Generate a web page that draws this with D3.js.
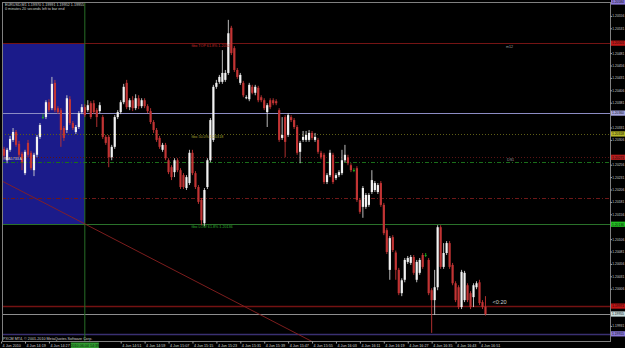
<!DOCTYPE html>
<html>
<head>
<meta charset="utf-8">
<script src="https://cdn.jsdelivr.net/npm/d3@7"></script>
<style>
html, body { margin: 0; padding: 0; background: #000; overflow: hidden; }
svg { display: block; }
text { font-family: "Liberation Sans", Arial, sans-serif; }
</style>
</head>
<body>
<svg id="chart" width="625" height="348"></svg>
<script>
// ---------------- data (EURUSD M1, 4 Jun 2010, first bar 14:11) ----------------
const symbol = "EURUSD,M1";
const firstBar = "14:11";

const open = [
  1.20274,1.20288,1.20265,1.20286,1.20306,1.20322,1.20298,1.20278,1.20239,1.20300,
  1.20280,1.20245,1.20276,1.20312,1.20352,1.20352,1.20382,1.20370,1.20421,1.20370,
  1.20366,1.20330,1.20326,1.20388,1.20340,1.20322,1.20332,1.20362,1.20372,1.20366,
  1.20380,1.20380,1.20366,1.20364,1.20352,1.20312,1.20312,1.20271,1.20292,1.20352,
  1.20362,1.20382,1.20421,1.20372,1.20386,1.20370,1.20390,1.20374,1.20386,1.20374,
  1.20364,1.20342,1.20326,1.20310,1.20286,1.20296,1.20265,1.20251,1.20241,1.20265,
  1.20245,1.20235,1.20209,1.20219,1.20280,1.20239,1.20211,1.20185,1.20138,1.20211,
  1.20265,1.20306,1.20413,1.20423,1.20423,1.20427,1.20441,1.20532,1.20491,1.20447,
  1.20421,1.20421,1.20390,1.20388,1.20413,1.20401,1.20411,1.20392,1.20386,1.20362,
  1.20386,1.20386,1.20384,1.20366,1.20310,1.20352,1.20316,1.20352,1.20346,1.20332,
  1.20282,1.20306,1.20306,1.20306,1.20320,1.20306,1.20306,1.20280,1.20276,1.20221,
  1.20235,1.20276,1.20229,1.20235,1.20239,1.20265,1.20271,1.20255,1.20245,1.20249,
  1.20185,1.20171,1.20171,1.20175,1.20201,1.20205,1.20201,1.20219,1.20175,1.20124,
  1.20044,1.20110,1.20079,1.20044,1.19997,1.20024,1.20060,1.20058,1.20070,1.20024,
  1.20038,1.20074,1.20074,1.20064,1.20003,1.19983,1.20009,1.20130,1.20050,1.20078,
  1.20098,1.20054,1.20017,1.20009,1.19969,1.19983,1.20013,1.19997,1.19989,1.20009,
  1.20019,1.19979,1.19970
];
const high = [
  1.20294,1.20292,1.20290,1.20314,1.20330,1.20326,1.20304,1.20282,1.20286,1.20306,
  1.20284,1.20280,1.20316,1.20340,1.20358,1.20386,1.20388,1.20433,1.20427,1.20374,
  1.20370,1.20334,1.20396,1.20394,1.20344,1.20336,1.20364,1.20378,1.20378,1.20386,
  1.20384,1.20386,1.20370,1.20382,1.20356,1.20316,1.20316,1.20296,1.20356,1.20366,
  1.20386,1.20419,1.20427,1.20390,1.20394,1.20398,1.20396,1.20390,1.20390,1.20378,
  1.20370,1.20346,1.20330,1.20314,1.20300,1.20300,1.20269,1.20255,1.20269,1.20269,
  1.20249,1.20239,1.20235,1.20286,1.20286,1.20243,1.20215,1.20189,1.20209,1.20269,
  1.20350,1.20417,1.20427,1.20437,1.20487,1.20447,1.20548,1.20536,1.20495,1.20451,
  1.20441,1.20425,1.20396,1.20421,1.20417,1.20417,1.20415,1.20396,1.20390,1.20380,
  1.20390,1.20390,1.20388,1.20370,1.20352,1.20356,1.20360,1.20356,1.20350,1.20336,
  1.20304,1.20324,1.20324,1.20326,1.20324,1.20320,1.20310,1.20284,1.20280,1.20239,
  1.20286,1.20280,1.20239,1.20245,1.20286,1.20296,1.20276,1.20259,1.20249,1.20253,
  1.20189,1.20213,1.20199,1.20199,1.20245,1.20223,1.20219,1.20223,1.20179,1.20128,
  1.20112,1.20114,1.20083,1.20048,1.20027,1.20068,1.20072,1.20074,1.20074,1.20064,
  1.20068,1.20078,1.20078,1.20068,1.20007,1.20044,1.20134,1.20134,1.20098,1.20102,
  1.20102,1.20058,1.20021,1.20013,1.20044,1.20042,1.20017,1.20001,1.20017,1.20021,
  1.20024,1.19983,1.19991
];
const low = [
  1.20265,1.20267,1.20259,1.20282,1.20302,1.20292,1.20271,1.20245,1.20235,1.20271,
  1.20245,1.20233,1.20271,1.20308,1.20348,1.20348,1.20362,1.20366,1.20362,1.20358,
  1.20292,1.20304,1.20320,1.20336,1.20326,1.20318,1.20328,1.20358,1.20352,1.20362,
  1.20348,1.20358,1.20332,1.20360,1.20308,1.20296,1.20251,1.20265,1.20288,1.20348,
  1.20358,1.20378,1.20368,1.20366,1.20364,1.20366,1.20368,1.20370,1.20370,1.20360,
  1.20338,1.20320,1.20302,1.20288,1.20282,1.20265,1.20237,1.20225,1.20231,1.20241,
  1.20207,1.20207,1.20205,1.20215,1.20235,1.20207,1.20177,1.20134,1.20132,1.20207,
  1.20261,1.20302,1.20409,1.20419,1.20419,1.20423,1.20437,1.20477,1.20443,1.20429,
  1.20417,1.20392,1.20388,1.20384,1.20398,1.20396,1.20382,1.20382,1.20366,1.20332,
  1.20368,1.20376,1.20376,1.20302,1.20306,1.20271,1.20312,1.20342,1.20328,1.20276,
  1.20259,1.20302,1.20302,1.20302,1.20306,1.20302,1.20278,1.20267,1.20217,1.20217,
  1.20231,1.20217,1.20225,1.20231,1.20235,1.20261,1.20255,1.20241,1.20241,1.20181,
  1.20157,1.20149,1.20167,1.20171,1.20197,1.20201,1.20197,1.20171,1.20114,1.20076,
  1.20024,1.20080,1.20024,1.19993,1.19991,1.20019,1.20056,1.20054,1.20034,1.20019,
  1.20034,1.20046,1.20070,1.19993,1.19917,1.19953,1.20003,1.20046,1.20046,1.20074,
  1.20046,1.20013,1.19979,1.19965,1.19965,1.19979,1.19979,1.19965,1.19969,1.20005,
  1.19973,1.19965,1.19952
];
const close = [
  1.20288,1.20274,1.20286,1.20308,1.20322,1.20296,1.20276,1.20261,1.20282,1.20276,
  1.20249,1.20276,1.20312,1.20336,1.20352,1.20382,1.20366,1.20419,1.20366,1.20362,
  1.20326,1.20310,1.20390,1.20340,1.20330,1.20332,1.20360,1.20372,1.20356,1.20376,
  1.20352,1.20362,1.20352,1.20376,1.20312,1.20300,1.20271,1.20292,1.20352,1.20362,
  1.20382,1.20413,1.20372,1.20386,1.20370,1.20390,1.20374,1.20386,1.20374,1.20364,
  1.20342,1.20326,1.20306,1.20292,1.20296,1.20269,1.20241,1.20231,1.20265,1.20245,
  1.20211,1.20211,1.20231,1.20280,1.20239,1.20211,1.20181,1.20144,1.20205,1.20265,
  1.20346,1.20413,1.20421,1.20433,1.20441,1.20441,1.20521,1.20481,1.20447,1.20433,
  1.20437,1.20396,1.20392,1.20417,1.20401,1.20413,1.20386,1.20386,1.20370,1.20376,
  1.20372,1.20380,1.20380,1.20306,1.20316,1.20302,1.20356,1.20346,1.20332,1.20280,
  1.20300,1.20312,1.20316,1.20320,1.20310,1.20312,1.20282,1.20271,1.20221,1.20235,
  1.20280,1.20221,1.20235,1.20241,1.20265,1.20276,1.20259,1.20245,1.20245,1.20185,
  1.20161,1.20209,1.20195,1.20195,1.20225,1.20219,1.20215,1.20175,1.20118,1.20080,
  1.20108,1.20084,1.20044,1.19997,1.20023,1.20064,1.20068,1.20070,1.20038,1.20060,
  1.20064,1.20050,1.20074,1.19997,1.19983,1.20009,1.20130,1.20050,1.20078,1.20098,
  1.20050,1.20017,1.19983,1.19969,1.20040,1.20038,1.19983,1.19969,1.20013,1.20017,
  1.19977,1.19969,1.19955
];

// time axis labels (every 8 bars) and price axis labels
const timeTicks = ["14:11","14:19","14:27","14:35","14:43","14:51","14:59","15:07","15:15",
  "15:23","15:31","15:39","15:47","15:55","16:03","16:11","16:19","16:27","16:35","16:43","16:51"];
const priceTicks = [1.20556,1.20531,1.20506,1.20481,1.20456,1.20431,1.20406,1.20381,1.20356,
  1.20331,1.20306,1.20281,1.20256,1.20231,1.20206,1.20181,1.20156,1.20131,1.20106,1.20081,
  1.20056,1.20031,1.20006,1.19981,1.19956,1.19931,1.19906];

// horizontal line objects
const levelPrices = [1.20501, 1.20360, 1.20318, 1.20271, 1.20261, 1.20189, 1.20136, 1.19971, 1.19955, 1.19915];
const fiboTexts = ["fibo TOP 61.8%   1.20501", "fibo 50.0%   1.20318", "fibo LOW 61.8%   1.20136"];
const fiboTextPrices = [1.20501, 1.20318, 1.20136];

// rectangle + vertical line + trend line
const rectEnd = "14:39";
const rectPrices = [1.20501, 1.20136];
const vlineTime = "14:39";
const trendTimes = ["14:11", "15:51"];
const trendPrices = [1.20224, 1.19912];

// ---------------- chart ----------------
const svg = d3.select("#chart");
const W = 625, H = 348;
const plot = { left: 2, right: 610, top: 2, bottom: 341 };

const toTime = s => { const p = s.split(":").map(Number); return new Date(2010, 5, 4, p[0], p[1]); };
const t0 = toTime(firstBar);
const bars = open.map((o, i) => ({
  t: d3.timeMinute.offset(t0, i), o: o, h: high[i], l: low[i], c: close[i]
}));

// 2.99 px per minute bar
const x = d3.scaleTime()
  .domain([t0, d3.timeMinute.offset(t0, 203)])
  .range([1.1, 1.1 + 2.99 * 203]);
const y = d3.scaleLinear().domain([1.20582, 1.19901]).range([3, 340.8]);

svg.append("rect").attr("width", W).attr("height", H).attr("fill", "#000");

svg.append("clipPath").attr("id", "clip")
  .append("rect")
  .attr("x", plot.left).attr("y", plot.top)
  .attr("width", plot.right - plot.left).attr("height", plot.bottom - plot.top);

const g = svg.append("g").attr("clip-path", "url(#clip)");

// blue rectangle
g.append("rect")
  .attr("x", plot.left)
  .attr("y", y(rectPrices[0]))
  .attr("width", x(toTime(rectEnd)) - plot.left)
  .attr("height", y(rectPrices[1]) - y(rectPrices[0]))
  .attr("fill", "#1b1b8a");

// horizontal levels, styles in the same order as levelPrices
const levelStyle = [
  { c: "#741414", d: null, w: 1 },
  { c: "#8c8cc4", d: null, w: 1 },
  { c: "#5e5e16", d: "1,2", w: 1 },
  { c: "#5a1414", d: "1,2", w: 1 },
  { c: "#1a6e1a", d: "4,2,1,2", w: 1 },
  { c: "#6e1818", d: "4,2,1,2", w: 1 },
  { c: "#2a722a", d: null, w: 1 },
  { c: "#741212", d: null, w: 1.6 },
  { c: "#8e8e8e", d: null, w: 1 },
  { c: "#3a3072", d: null, w: 1.6 }
];
g.selectAll(".level")
  .data(levelPrices).enter()
  .append("line")
  .attr("class", "level")
  .attr("x1", plot.left).attr("x2", plot.right)
  .attr("y1", d => Math.round(y(d)) + 0.5)
  .attr("y2", d => Math.round(y(d)) + 0.5)
  .attr("stroke", (d, i) => levelStyle[i].c)
  .attr("stroke-width", (d, i) => levelStyle[i].w)
  .attr("stroke-dasharray", (d, i) => levelStyle[i].d);

// vertical line
g.append("line")
  .attr("x1", x(toTime(vlineTime))).attr("x2", x(toTime(vlineTime)))
  .attr("y1", plot.top).attr("y2", plot.bottom)
  .attr("stroke", "#266e26").attr("stroke-width", 1);

// trend line (ray both ways, clipped)
const tSlope = (trendPrices[1] - trendPrices[0]) / 100;
g.append("line")
  .attr("x1", x(d3.timeMinute.offset(toTime(trendTimes[0]), -5)))
  .attr("y1", y(trendPrices[0] - 5 * tSlope))
  .attr("x2", x(d3.timeMinute.offset(toTime(trendTimes[1]), 20)))
  .attr("y2", y(trendPrices[1] + 20 * tSlope))
  .attr("stroke", "#8a2020").attr("stroke-width", 0.9);

// candles
const upCol = "#f2f2f2", dnCol = "#c23434", dojiCol = "#1fae1f";
const colOf = d => d.c > d.o ? upCol : (d.c < d.o ? dnCol : dojiCol);
const bodyW = 2.2;

g.selectAll(".wick")
  .data(bars).enter()
  .append("line")
  .attr("class", "wick")
  .attr("x1", d => x(d.t)).attr("x2", d => x(d.t))
  .attr("y1", d => y(d.h)).attr("y2", d => y(d.l))
  .attr("stroke", d => d.c > d.o ? "#cfcfcf" : colOf(d))
  .attr("stroke-width", 0.9);

g.selectAll(".body")
  .data(bars).enter()
  .append("rect")
  .attr("class", "body")
  .attr("x", d => x(d.t) - bodyW / 2)
  .attr("y", d => y(Math.max(d.o, d.c)))
  .attr("width", bodyW)
  .attr("height", d => Math.max(0.8, Math.abs(y(d.o) - y(d.c))))
  .attr("fill", colOf);

// object texts
const small = 3.7;
const axisFont = 3.3;
const fiboCol = ["#c02a2a", "#a0a030", "#2fb02f"];
g.selectAll(".fibotext")
  .data(fiboTexts).enter()
  .append("text")
  .attr("x", x(toTime("15:15")) - 1)
  .attr("y", (d, i) => y(fiboTextPrices[i]) + 4)
  .attr("font-size", small)
  .attr("fill", (d, i) => fiboCol[i])
  .text(d => d);

g.append("text").attr("x", 506).attr("y", y(levelPrices[0]) + 4.5)
  .attr("font-size", small).attr("fill", "#9a9a9a").text("m12");
g.append("text").attr("x", 507).attr("y", y(levelPrices[3]) + 3.5)
  .attr("font-size", small).attr("fill", "#9a9a9a").text("DS1");
g.append("text").attr("x", 3).attr("y", y(levelPrices[3]) + 2.5)
  .attr("font-size", small).attr("fill", "#d8d8d8").text("#MA5733 A");

// time left to bar end
const last = bars[bars.length - 1];
g.append("text")
  .attr("x", x(last.t) + 7).attr("y", y(last.c) - 10)
  .attr("font-size", 5.6).attr("fill", "#cfcfcf")
  .text("<0:20");

// frame
svg.append("rect")
  .attr("x", plot.left + 0.5).attr("y", plot.top + 0.5)
  .attr("width", plot.right - plot.left).attr("height", plot.bottom - plot.top)
  .attr("fill", "none").attr("stroke", "#808080").attr("stroke-width", 1);

// coloured price labels on the axis (drawn over the regular labels)
const boxCol = ["#c01818", "#a6a6e0", "#b8b828", "#b81c1c", null, null, "#22c022", "#c01414", "#c8dcdc", "#8a78d8"];
const boxData = levelPrices.map((p, i) => ({ p: p, c: boxCol[i] })).filter(d => d.c);
boxData.push({ p: 1.20584, c: "#8a78d8" });

// price axis: hide the plain labels that sit under a coloured box
const freeTicks = priceTicks.filter(v => boxData.every(b => Math.abs(y(b.p) - y(v)) > 5));
const yAxis = svg.append("g")
  .attr("transform", "translate(" + (plot.right + 0.5) + ",0)")
  .call(d3.axisRight(y).tickValues(freeTicks).tickFormat(d3.format(".5f")).tickSize(1.5).tickPadding(0.3));
yAxis.select(".domain").remove();
yAxis.selectAll("line").attr("stroke", "#a0a0a0");
yAxis.selectAll("text").attr("font-size", axisFont).attr("fill", "#cfcfcf")
  .attr("font-family", "Liberation Sans, Arial, sans-serif");

svg.selectAll(".pbox")
  .data(boxData).enter()
  .append("rect")
  .attr("class", "pbox")
  .attr("x", plot.right + 1).attr("y", d => y(d.p) - 2.6)
  .attr("width", W - plot.right).attr("height", 5.2)
  .attr("fill", d => d.c);
svg.selectAll(".ptext")
  .data(boxData).enter()
  .append("text")
  .attr("class", "ptext")
  .attr("x", plot.right + 2).attr("y", d => y(d.p) + 1.3)
  .attr("font-size", axisFont).attr("fill", "#101010")
  .text(d => d3.format(".5f")(d.p));

// time axis: the label under the vertical line box is covered in the original
const vx = x(toTime(vlineTime));
const shownTimes = timeTicks.map(toTime).filter(d => Math.abs(x(d) - vx) > 14);
const fmt = d3.timeFormat("%-d %b %H:%M");
const xAxis = svg.append("g")
  .attr("transform", "translate(0," + (plot.bottom + 0.5) + ")")
  .call(d3.axisBottom(x).tickValues(shownTimes)
    .tickFormat(d => +d === +t0 ? "4 Jun 2010" : fmt(d)).tickSize(2).tickPadding(1));
xAxis.select(".domain").remove();
xAxis.selectAll("line").attr("stroke", "#a0a0a0");
xAxis.selectAll("text").attr("font-size", small).attr("fill", "#cfcfcf")
  .attr("text-anchor", "start").attr("dx", 1)
  .attr("font-family", "Liberation Sans, Arial, sans-serif");

// vertical line label on time axis
svg.append("rect").attr("x", vx - 14).attr("y", plot.bottom + 1.5)
  .attr("width", 28).attr("height", 5.5).attr("fill", "#2f9a2f");
svg.append("text").attr("x", vx).attr("y", plot.bottom + 5.8)
  .attr("text-anchor", "middle").attr("font-size", small).attr("fill", "#0a2a0a")
  .text("2010.06.04 " + vlineTime);

// header
svg.append("text").attr("x", 5).attr("y", 5.5).attr("font-size", small).attr("fill", "#d0d0d0")
  .text(symbol + "  " + [last.o, last.h, last.l, last.c].map(d3.format(".5f")).join(" "));
svg.append("text").attr("x", 5).attr("y", 9.5).attr("font-size", small).attr("fill", "#d0d0d0")
  .text("0 minutes 20 seconds left to bar end");

// copyright
svg.append("text").attr("x", 3).attr("y", plot.bottom - 1.5).attr("font-size", small).attr("fill", "#d0d0d0")
  .text("PXCM MT4, \u00a9 2001-2010 MetaQuotes Software Corp.");
</script>
</body>
</html>
